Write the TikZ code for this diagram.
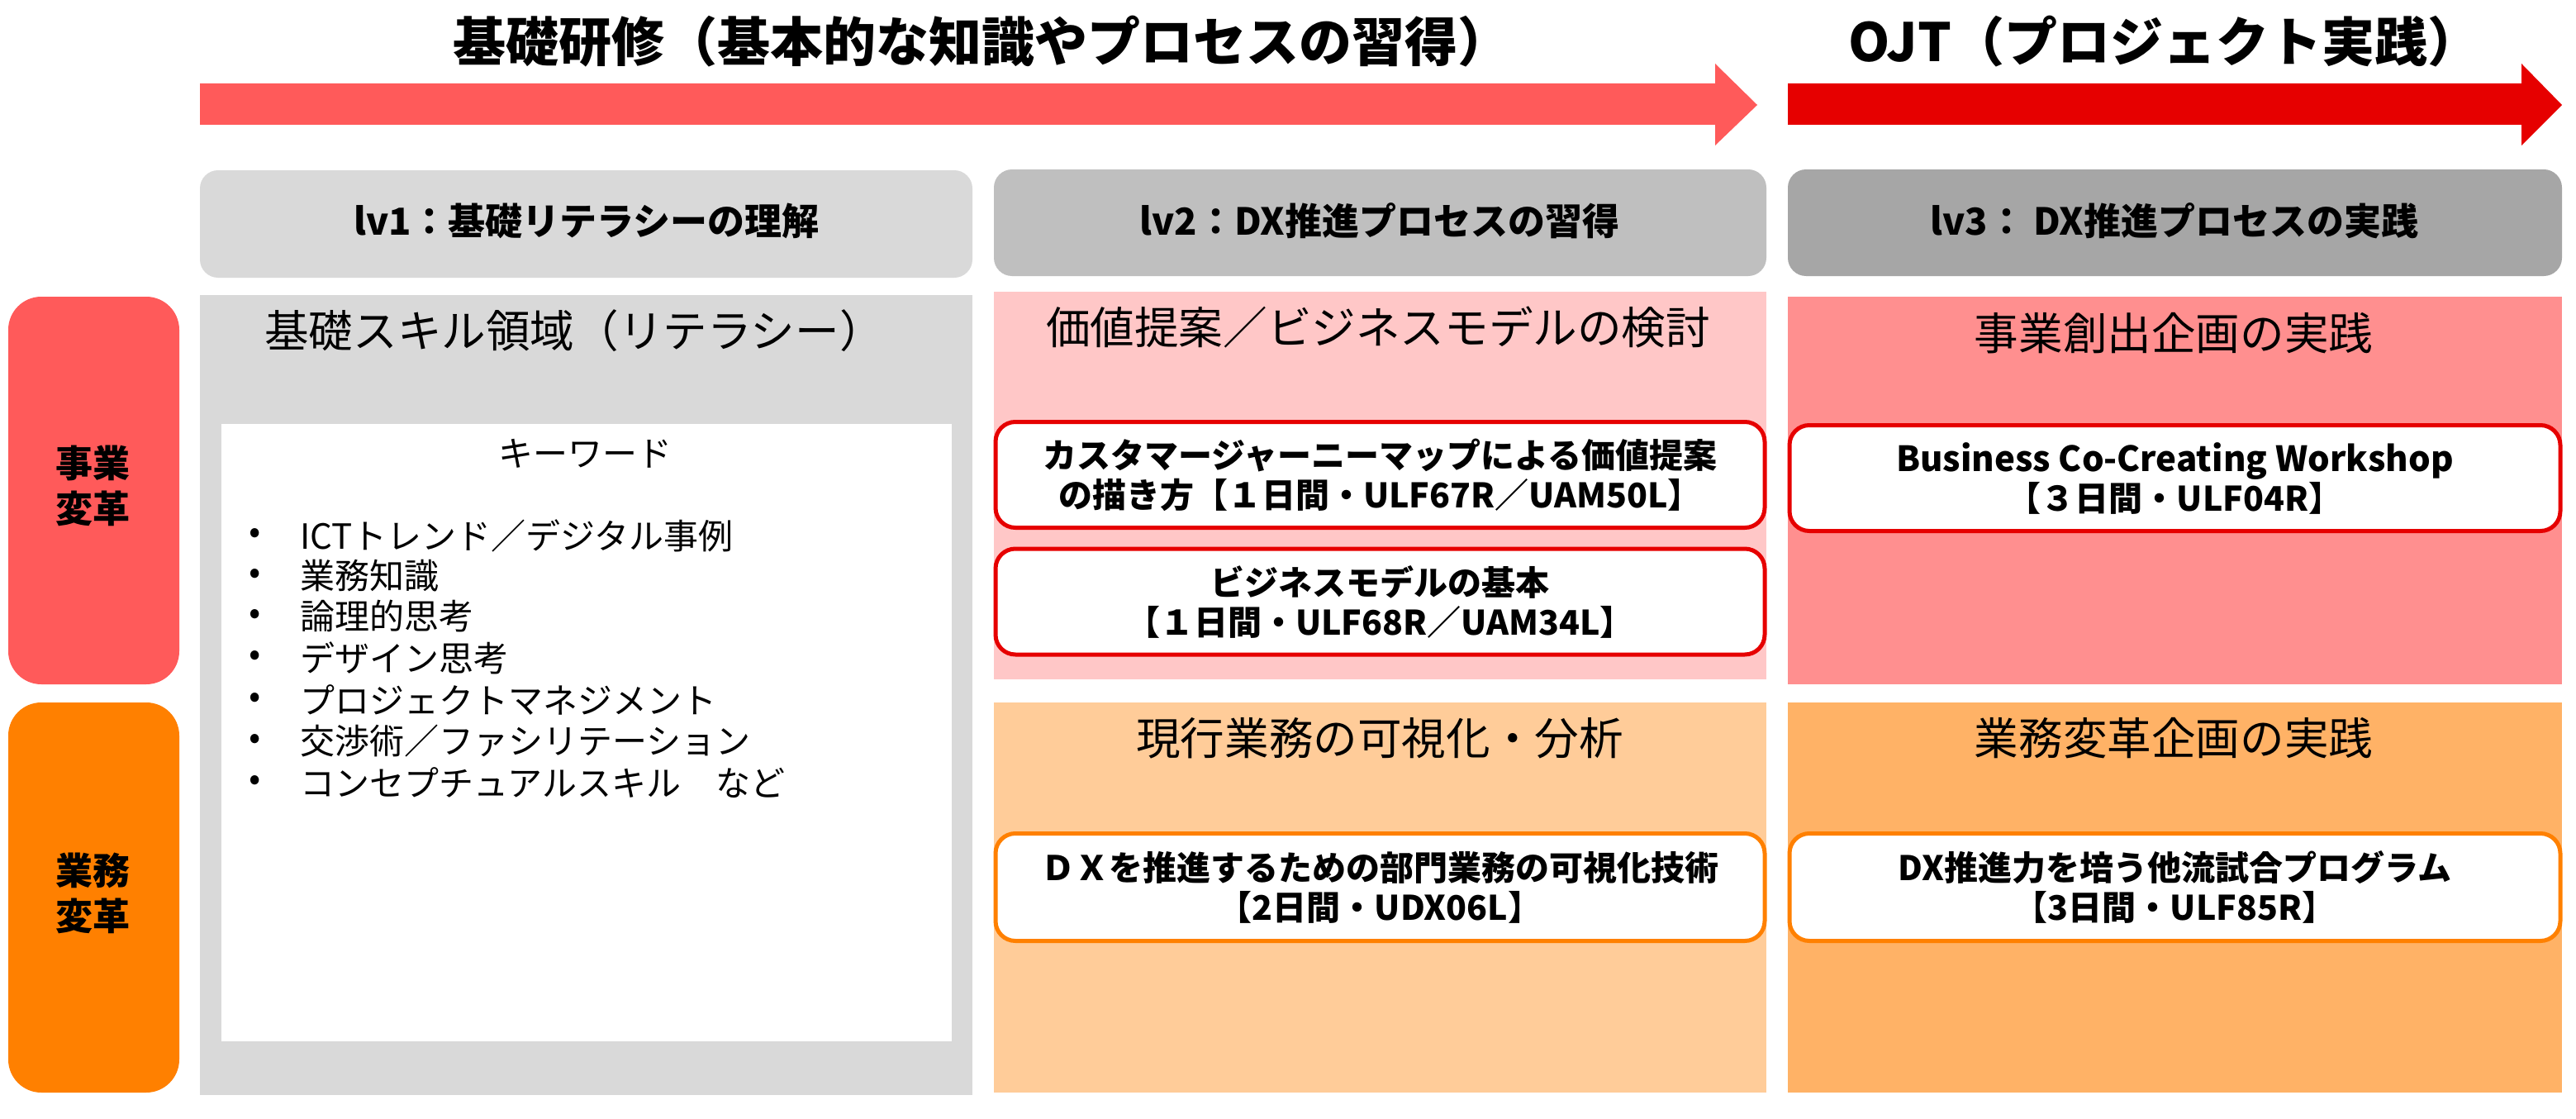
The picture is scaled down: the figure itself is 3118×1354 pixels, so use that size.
\documentclass[tikz,border=0pt]{standalone}
\usepackage{fontspec}
\setmainfont{Noto Sans CJK JP}
\definecolor{arrowA}{HTML}{FF5A5A}
\definecolor{arrowB}{HTML}{E60000}
\definecolor{grayA}{HTML}{D9D9D9}
\definecolor{grayB}{HTML}{BFBFBF}
\definecolor{grayC}{HTML}{A6A6A6}
\definecolor{pinkA}{HTML}{FFC7C7}
\definecolor{pinkB}{HTML}{FF8F8F}
\definecolor{orangeS}{HTML}{FF8000}
\definecolor{orangeA}{HTML}{FFCC99}
\definecolor{orangeB}{HTML}{FFB266}
\definecolor{redline}{HTML}{E60000}
\begin{document}
\begin{tikzpicture}[x=0.5pt,y=-0.5pt,
  titletext/.style={font=\bfseries\fontsize{32}{36}\selectfont, inner sep=0pt},
  lvtext/.style={font=\bfseries\fontsize{22.5}{27}\selectfont, inner sep=0pt},
  sidetext/.style={font=\bfseries\fontsize{22.5}{27.5}\selectfont, align=center, inner sep=0pt},
  areatitle/.style={font=\fontsize{26.8}{30}\selectfont, inner sep=0pt},
  kwtext/.style={font=\fontsize{21}{25}\selectfont, inner sep=0pt},
  boxtext/.style={font=\bfseries\fontsize{20.5}{24}\selectfont, align=center, inner sep=0pt},
  course/.style={draw, line width=2.5pt, fill=white, rounded corners=12pt},
]
\useasboundingbox (0,0) rectangle (3118,1354);
\fill[white] (0,0) rectangle (3118,1354);

% arrows
\fill[arrowA] (242,101) -- (2076,101) -- (2076,77) -- (2127,127) -- (2076,176) -- (2076,151) -- (242,151) -- cycle;
\fill[arrowB] (2164,101) -- (3052,101) -- (3052,77) -- (3101,127) -- (3052,176) -- (3052,151) -- (2164,151) -- cycle;
\node[titletext] (t1) at (1188,50) {基礎研修（基本的な知識やプロセスの習得）};
\node[titletext] (t2) at (2620,50) {OJT（プロジェクト実践）};

% level headers
\fill[grayA, rounded corners=11pt] (242,206) rectangle (1177,336);
\fill[grayB, rounded corners=11pt] (1203,205) rectangle (2138,334);
\fill[grayC, rounded corners=11pt] (2164,205) rectangle (3101,334);
\node[lvtext] (lv1) at (710,267) {lv1：基礎リテラシーの理解};
\node[lvtext] (lv2) at (1670,267) {lv2：DX推進プロセスの習得};
\node[lvtext] (lv3) at (2632,267) {lv3： DX推進プロセスの実践};

% side labels
\fill[arrowA, rounded corners=20pt] (10,359) rectangle (217,828);
\fill[orangeS, rounded corners=20pt] (10,850) rectangle (217,1322);
\node[sidetext] (s1) at (113,588) {事業\\変革};
\node[sidetext] (s2) at (113,1081) {業務\\変革};

% lv1 area
\fill[grayA] (242,357) rectangle (1177,1325);
\fill[white] (268,513) rectangle (1152,1260);
\node[areatitle] (a1) at (695,400) {基礎スキル領域（リテラシー）};
\node[kwtext] (kw) at (708,549) {キーワード};
\foreach \yy/\txt [count=\i] in {648/ICTトレンド／デジタル事例, 697/業務知識, 746/論理的思考, 796/デザイン思考, 847/プロジェクトマネジメント, 897/交渉術／ファシリテーション, 947/コンセプチュアルスキル　など}{
  \node[kwtext] (b\i) at (309,\yy) {•};
  \node[kwtext, anchor=west] (k\i) at (363,\yy) {\txt};
}

% lv2 business
\fill[pinkA] (1203,353) rectangle (2138,822);
\node[areatitle] (a2) at (1668,396) {価値提案／ビジネスモデルの検討};
\node[course, draw=redline, minimum width=465.5pt, minimum height=64pt] (c1) at (1670.5,574.5) {};
\node[boxtext] at (c1) {カスタマージャーニーマップによる価値提案\\の描き方【１日間・ULF67R／UAM50L】};
\node[course, draw=redline, minimum width=465.5pt, minimum height=64pt] (c2) at (1670.5,728) {};
\node[boxtext] at (c2) {ビジネスモデルの基本\\【１日間・ULF68R／UAM34L】};

% lv3 business
\fill[pinkB] (2164,359) rectangle (3101,828);
\node[areatitle] (a3) at (2631,403) {事業創出企画の実践};
\node[course, draw=redline, minimum width=466.5pt, minimum height=64pt] (c3) at (2632.5,578.5) {};
\node[boxtext] at (c3) {\fontsize{21}{24}\selectfont Business Co-Creating Workshop\\【３日間・ULF04R】};

% lv2 operations
\fill[orangeA] (1203,850) rectangle (2138,1322);
\node[areatitle] (a4) at (1670,893) {現行業務の可視化・分析};
\node[course, draw=orangeS, minimum width=465.5pt, minimum height=65pt] (c4) at (1670.5,1073.5) {};
\node[boxtext] at (c4) {ＤＸを推進するための部門業務の可視化技術\\【2日間・UDX06L】};

% lv3 operations
\fill[orangeB] (2164,850) rectangle (3101,1322);
\node[areatitle] (a5) at (2631,893) {業務変革企画の実践};
\node[course, draw=orangeS, minimum width=466.5pt, minimum height=65pt] (c5) at (2632.5,1073.5) {};
\node[boxtext] at (c5) {DX推進力を培う他流試合プログラム\\【3日間・ULF85R】};
\end{tikzpicture}
\end{document}
